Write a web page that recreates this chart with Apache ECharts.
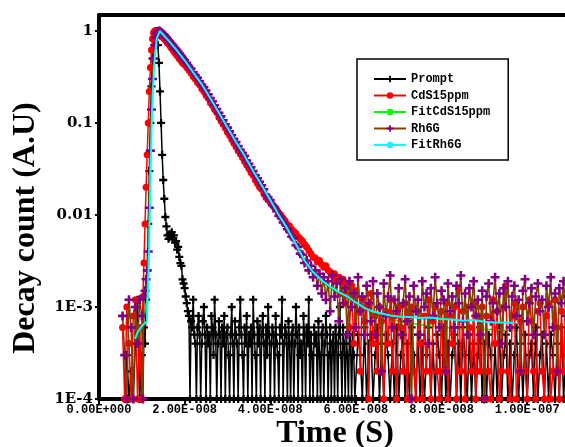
<!DOCTYPE html>
<html><head><meta charset="utf-8">
<script src="https://cdn.jsdelivr.net/npm/echarts@6/dist/echarts.min.js"></script>
<style>html,body{margin:0;padding:0;background:#fff}#chart{width:565px;height:447px}</style>
</head><body><div id="chart"></div>
<script>
// time in nanoseconds (axis labels show seconds)
const timeNs = [
5,5.5,6,6.5,7,7.5,8,8.5,9,9.5,
10,10.25,10.5,10.75,11,11.25,11.5,11.75,12,12.25,12.5,12.75,13,13.25,13.5,13.75,14,14.25,14.5,14.75,
15,15.25,15.5,15.75,16,16.25,16.5,16.75,17,17.25,17.5,17.75,18,18.25,18.5,18.75,19,19.25,19.5,19.75,
20,20.5,21,21.5,22,22.5,23,23.5,24,24.5,25,25.5,26,26.5,27,27.5,28,28.5,29,29.5,
30,30.5,31,31.5,32,32.5,33,33.5,34,34.5,35,35.5,36,36.5,37,37.5,38,38.5,39,39.5,
40,40.5,41,41.5,42,42.5,43,43.5,44,44.5,45,45.5,46,46.5,47,47.5,48,48.5,49,49.5,
50,50.5,51,51.5,52,52.5,53,53.5,54,54.5,55,55.5,56,56.5,57,57.5,58,58.5,59,59.5,
60,60.5,61,61.5,62,62.5,63,63.5,64,64.5,65,65.5,66,66.5,67,67.5,68,68.5,69,69.5,
70,70.5,71,71.5,72,72.5,73,73.5,74,74.5,75,75.5,76,76.5,77,77.5,78,78.5,79,79.5,
80,80.5,81,81.5,82,82.5,83,83.5,84,84.5,85,85.5,86,86.5,87,87.5,88,88.5,89,89.5,
90,90.5,91,91.5,92,92.5,93,93.5,94,94.5,95,95.5,96,96.5,97,97.5,98,98.5,99,99.5,
100,100.5,101,101.5,102,102.5,103,103.5,104,104.5,105,105.5,106,106.5,107,107.5,108,108.5,109,109.5
];
const promptTimeNs = [
5,5.5,6,6.5,7,7.5,8,8.5,9,9.5,
10,10.25,10.5,10.75,11,11.25,11.5,11.75,12,12.25,12.5,12.75,13,13.25,13.5,13.75,14,14.25,14.5,14.75,
15,15.25,15.5,15.75,16,16.25,16.5,16.75,17,17.25,17.5,17.75,18,18.25,18.5,18.75,19,19.25,19.5,19.75,
20,20.25,20.5,20.75,21,21.25,21.5,21.75,22,22.25,22.5,22.75,23,23.25,23.5,23.75,24,24.25,24.5,24.75,
25,25.25,25.5,25.75,26,26.25,26.5,26.75,27,27.25,27.5,27.75,28,28.25,28.5,28.75,29,29.25,29.5,29.75,
30,30.25,30.5,30.75,31,31.25,31.5,31.75,32,32.25,32.5,32.75,33,33.25,33.5,33.75,34,34.25,34.5,34.75,
35,35.25,35.5,35.75,36,36.25,36.5,36.75,37,37.25,37.5,37.75,38,38.25,38.5,38.75,39,39.25,39.5,39.75,
40,40.25,40.5,40.75,41,41.25,41.5,41.75,42,42.25,42.5,42.75,43,43.25,43.5,43.75,44,44.25,44.5,44.75,
45,45.25,45.5,45.75,46,46.25,46.5,46.75,47,47.25,47.5,47.75,48,48.25,48.5,48.75,49,49.25,49.5,49.75,
50,50.25,50.5,50.75,51,51.25,51.5,51.75,52,52.25,52.5,52.75,53,53.25,53.5,53.75,54,54.25,54.5,54.75,
55,55.25,55.5,55.75,56,56.25,56.5,56.75,57,57.25,57.5,57.75,58,58.25,58.5,58.75,59,59.25,59.5,59.75,
60,60.5,61,61.5,62,62.5,63,63.5,64,64.5,65,65.5,66,66.5,67,67.5,68,68.5,69,69.5,
70,70.5,71,71.5,72,72.5,73,73.5,74,74.5,75,75.5,76,76.5,77,77.5,78,78.5,79,79.5,
80,80.5,81,81.5,82,82.5,83,83.5,84,84.5,85,85.5,86,86.5,87,87.5,88,88.5,89,89.5,
90,90.5,91,91.5,92,92.5,93,93.5,94,94.5,95,95.5,96,96.5,97,97.5,98,98.5,99,99.5,
100,100.5,101,101.5,102,102.5,103,103.5,104,104.5,105,105.5,106,106.5,107,107.5,108,108.5,109,109.5
];
const promptDecay = [
null,null,1e-4,3e-4,1e-4,2e-4,1e-4,4e-4,1.2e-3,1e-4,
3e-4,1e-4,6e-4,4e-4,1.2e-3,2.5e-3,8e-3,0.03,0.1,0.25,
0.5,0.8,0.97,1.0,0.9,0.7,0.45,0.22,0.1,0.045,
0.024,0.015,0.0095,0.0075,0.006,0.0055,0.0062,0.0058,0.0065,0.0055,
0.006,0.005,0.0052,0.0042,0.0045,0.0035,0.003,0.0028,0.002,0.0018,
1.6e-3,1.3e-3,1.1e-3,9e-4,8e-4,1e-4,7e-4,6e-4,1.2e-3,5e-4,4e-4,1e-4,6e-4,8e-4,5e-4,1e-4,4e-4,7e-4,1e-3,5e-4,
1e-4,6e-4,4e-4,5e-4,1e-4,8e-4,6e-4,3e-4,1.2e-3,5e-4,1e-4,4e-4,7e-4,5e-4,1e-4,6e-4,4e-4,8e-4,1e-4,5e-4,
6e-4,3e-4,1e-4,5e-4,1e-3,4e-4,1e-4,7e-4,5e-4,4e-4,1e-4,6e-4,1.2e-3,5e-4,3e-4,1e-4,6e-4,4e-4,8e-4,1e-4,
5e-4,4e-4,6e-4,1e-4,1.2e-3,5e-4,3e-4,1e-4,7e-4,4e-4,6e-4,1e-4,5e-4,8e-4,4e-4,1e-4,6e-4,3e-4,1e-3,5e-4,
1e-4,4e-4,6e-4,5e-4,1e-4,8e-4,4e-4,3e-4,1e-4,6e-4,5e-4,1.2e-3,1e-4,4e-4,6e-4,5e-4,1e-4,7e-4,4e-4,1e-4,
5e-4,6e-4,1e-4,4e-4,1e-3,5e-4,1e-4,6e-4,3e-4,4e-4,1e-4,8e-4,5e-4,1e-4,6e-4,4e-4,1.2e-3,1e-4,5e-4,3e-4,
1e-4,6e-4,4e-4,5e-4,1e-4,7e-4,3e-4,1e-4,5e-4,6e-4,1e-4,4e-4,8e-4,5e-4,1e-4,3e-4,6e-4,1e-4,4e-4,5e-4,
1e-4,6e-4,4e-4,1e-4,5e-4,1e-3,3e-4,1e-4,6e-4,4e-4,1e-4,5e-4,3e-4,1e-4,6e-4,4e-4,1e-4,5e-4,3e-4,1e-4,
1e-4,5e-4,3e-4,1e-4,6e-4,1e-4,4e-4,5e-4,1e-4,3e-4,6e-4,1e-4,4e-4,1e-4,5e-4,3e-4,1e-4,4e-4,1e-4,6e-4,
1e-4,3e-4,5e-4,1e-4,4e-4,1e-4,6e-4,3e-4,1e-4,5e-4,1e-4,4e-4,1e-4,3e-4,6e-4,1e-4,4e-4,1e-4,5e-4,3e-4,
1e-4,6e-4,1e-4,4e-4,1e-4,3e-4,5e-4,1e-4,4e-4,1e-4,6e-4,3e-4,1e-4,5e-4,1e-4,4e-4,1e-4,3e-4,6e-4,1e-4,
4e-4,1e-4,5e-4,3e-4,1e-4,4e-4,1e-4,6e-4,1e-4,3e-4,5e-4,1e-4,4e-4,1e-4,3e-4,6e-4,1e-4,4e-4,1e-4,5e-4,
1e-4,3e-4,4e-4,1e-4,6e-4,1e-4,3e-4,5e-4,1e-4,4e-4,1e-4,5e-4,3e-4,1e-4,4e-4,1e-4,6e-4,1e-4,3e-4,1e-4
];
const cdsDecay = [
null,6e-4,1e-4,1e-3,4e-4,1e-4,8e-4,1.2e-3,1e-4,6e-4,
1e-4,1.3e-3,3e-3,8e-3,0.02,0.045,0.1,0.22,0.4,0.62,
0.82,0.95,1.0,1.0,0.97,0.95,0.93,0.9,0.88,0.86,
0.85,0.82,0.8,0.77,0.74,0.73,0.7,0.67,0.65,0.63,
0.6,0.58,0.56,0.54,0.53,0.5,0.49,0.47,0.45,0.44,
0.43,0.4,0.375,0.35,0.32,0.3,0.275,0.26,0.235,0.22,
0.2,0.185,0.166,0.155,0.14,0.13,0.115,0.105,0.097,0.088,
0.079,0.073,0.066,0.06,0.055,0.05,0.046,0.042,0.038,0.035,
0.032,0.029,0.027,0.024,0.022,0.02,0.019,0.017,0.0155,0.0145,
0.0138,0.0128,0.0122,0.0114,0.0105,0.0099,0.0092,0.0086,0.0079,0.0076,
0.007,0.0066,0.0063,0.0058,0.0055,0.0052,0.0048,0.0045,0.0041,0.0038,
0.0035,0.0034,0.0031,0.0032,0.0029,0.0027,0.0028,0.0025,0.0024,0.0022,
0.0023,0.0019,0.0021,0.0014,0.002,0.0011,0.0018,6e-4,0.0017,4e-4,
0.0015,9e-4,2e-4,0.0012,7e-4,0.001,1e-4,0.0014,4e-4,8e-4,
2e-4,0.001,7e-4,1e-4,9e-4,4e-4,0.0012,2e-4,8e-4,1e-4,
0.001,6e-4,2e-4,0.0011,1e-4,8e-4,0.001,2e-4,1e-4,9e-4,
4e-4,1e-4,8e-4,2e-4,0.0012,1e-4,7e-4,0.001,2e-4,1e-4,
9e-4,2e-4,0.0011,1e-4,8e-4,4e-4,0.001,1e-4,0.0016,2e-4,
9e-4,1e-4,0.001,6e-4,2e-4,0.0011,1e-4,8e-4,2e-4,0.001,
1e-4,8e-4,2e-4,1e-4,0.0012,4e-4,9e-4,1e-4,2e-4,0.001,
0.0017,2e-4,1e-4,8e-4,0.0011,1e-4,2e-4,7e-4,0.001,2e-4,
1e-4,0.0012,7e-4,2e-4,1e-4,9e-4,0.0011,2e-4,1e-4,8e-4,
0.0011,1e-4,2e-4,0.0012,6e-4,1e-4,9e-4,2e-4,0.0013,1e-4
];
const rh6gDecay = [
null,8e-4,3e-4,1e-4,1.2e-3,6e-4,1e-4,1e-3,4e-4,1.2e-3,
8e-4,1e-4,1.3e-3,1.5e-3,2e-3,2.5e-3,4e-3,0.012,0.05,0.14,
0.3,0.5,0.7,0.85,0.94,0.98,1.0,0.99,0.97,0.95,
0.92,0.9,0.87,0.85,0.82,0.79,0.77,0.74,0.72,0.7,
0.67,0.65,0.63,0.61,0.59,0.57,0.55,0.53,0.51,0.49,
0.48,0.45,0.41,0.39,0.355,0.33,0.31,0.285,0.26,0.245,
0.225,0.205,0.186,0.172,0.156,0.142,0.129,0.118,0.107,0.097,
0.089,0.081,0.074,0.067,0.062,0.056,0.051,0.047,0.044,0.039,
0.036,0.033,0.03,0.027,0.025,0.023,0.021,0.019,0.0165,0.0155,
0.0145,0.0128,0.0122,0.011,0.0098,0.0094,0.0083,0.0079,0.007,0.0066,
0.0058,0.0056,0.0047,0.0045,0.0038,0.0037,0.003,0.0032,0.0025,0.0028,
0.0021,0.0025,0.0017,0.0023,0.0014,0.0021,0.0012,0.0019,9e-4,0.0022,
0.0013,0.0018,7e-4,0.002,0.0011,0.0016,5e-4,0.0019,0.001,0.0014,
6e-4,0.0021,9e-4,0.0013,5e-4,0.0017,0.0011,7e-4,0.0019,5e-4,
0.0014,0.001,2e-4,0.0018,8e-4,0.0013,0.0022,6e-4,0.0012,9e-4,
0.0016,5e-4,0.0011,0.002,7e-4,0.0013,1e-4,0.0017,9e-4,0.0012,
5e-4,0.0019,0.001,0.0014,4e-4,0.0016,8e-4,0.0021,0.0011,6e-4,
0.0015,0.0012,2e-4,0.0018,9e-4,0.0013,6e-4,0.0017,0.0011,0.0022,
7e-4,0.0014,5e-4,0.0016,0.001,0.0019,8e-4,0.0012,5e-4,0.0015,
1e-4,0.0013,0.0018,7e-4,0.0011,0.0021,9e-4,0.0014,4e-4,0.0016,
0.001,0.0019,6e-4,0.0013,0.0017,8e-4,0.0012,2e-4,0.0015,0.002,
7e-4,0.0011,0.0016,5e-4,0.0013,0.0018,9e-4,0.0012,5e-4,0.0017,
0.001,0.0021,6e-4,0.0014,2e-4,0.0016,0.0011,0.0019,8e-4,0.0013
];
const fitTimeNs = [
8.4,9.1,10,11.2,11.7,12,12.4,12.9,13.5,14.2,
15,16,18,20,22,24,26,28,30,32,
34,36,38,40,42,44,46,48,50,52,
54,56,58,60,62,64,66,68,70,72.5,
75,77.5,80,82.5,85,87.5,90,92.5,95,97
];
const fitCdS = [
4e-4,4.6e-4,5.5e-4,1.2e-3,0.012,0.05,0.2,0.55,0.9,0.98,
0.89,0.79,0.61,0.465,0.345,0.255,0.18,0.125,0.087,0.061,
0.043,0.03,0.021,0.0145,0.0102,0.0072,0.0049,0.0033,0.0024,0.0019,
0.0016,0.0014,0.00125,0.0011,9.6e-4,8.6e-4,8e-4,7.4e-4,7e-4,6.7e-4,
6.4e-4,6.2e-4,6e-4,5.9e-4,5.8e-4,5.8e-4,5.7e-4,5.7e-4,5.6e-4,5.6e-4
];
const fitRh6G = [
4.5e-4,5.4e-4,6.2e-4,7e-4,4e-3,0.025,0.14,0.44,0.83,1.0,
0.91,0.81,0.63,0.48,0.355,0.263,0.186,0.129,0.089,0.062,
0.044,0.03,0.021,0.0145,0.01,0.0071,0.0048,0.0032,0.0024,0.00195,
0.00166,0.00145,0.0013,0.00112,9.8e-4,8.9e-4,8.5e-4,8.1e-4,7.9e-4,7.8e-4,
7.6e-4,7.7e-4,7.4e-4,7.3e-4,7.1e-4,7.2e-4,6.9e-4,6.8e-4,6.8e-4,6.7e-4
];
const seriesNames = ['Prompt','CdS15ppm','FitCdS15ppm','Rh6G','FitRh6G'];
const xTickValues = [0,20,40,60,80,100];
const xTickLabels = ['0.00E+000','2.00E-008','4.00E-008','6.00E-008','8.00E-008','1.00E-007'];
const yTickValues = [1e-4,1e-3,1e-2,1e-1,1];
const yTickLabels = ['1E-4','1E-3','0.01','0.1','1'];

function pairs(xs, ys){const out=[];for(let i=0;i<xs.length;i++){if(ys[i]!=null)out.push([xs[i],ys[i]]);}return out;}
const plusSymbol = 'path://M2.5,0H4.5V2.5H7V4.5H4.5V7H2.5V4.5H0V2.5H2.5Z';

const chart = echarts.init(document.getElementById('chart'), null, {renderer:'canvas'});
chart.setOption({
  animation:false,
  backgroundColor:'#fff',
  grid:{left:99,right:-5,top:15,bottom:48,show:false,containLabel:false,outerBoundsMode:'none'},
  legend:{
    orient:'vertical',left:357,top:59,padding:[14,18,9,16],itemGap:4.5,itemWidth:32,itemHeight:8,
    backgroundColor:'#fff',borderColor:'#000',borderWidth:1.5,
    textStyle:{fontFamily:'Liberation Mono',fontWeight:'bold',fontSize:12,color:'#000'},
    data:seriesNames
  },
  xAxis:[{
    type:'value',min:0,max:110,interval:20,position:'bottom',
    axisLine:{lineStyle:{color:'#000',width:4}},
    axisTick:{length:5,lineStyle:{color:'#000',width:2},customValues:xTickValues},
    axisLabel:{customValues:xTickValues,margin:5,fontFamily:'Liberation Mono',fontWeight:'bold',fontSize:12,color:'#000',
      formatter:function(v){const i=xTickValues.indexOf(Math.round(v*1000)/1000);return i<0?'':xTickLabels[i];}},
    splitLine:{show:false}
  },{
    type:'value',min:0,max:110,position:'top',
    axisLine:{show:true,lineStyle:{color:'#000',width:4}},
    axisTick:{show:false},axisLabel:{show:false},splitLine:{show:false}
  }],
  yAxis:{
    type:'log',logBase:10,min:1e-4,max:1.49,
    axisLine:{lineStyle:{color:'#000',width:4}},
    axisTick:{length:4,lineStyle:{color:'#000',width:2},customValues:yTickValues},
    axisLabel:{customValues:yTickValues,margin:6,fontFamily:'DejaVu Serif',fontWeight:'bold',fontSize:15,color:'#000',
      formatter:function(v){const e=Math.log10(v);for(let i=0;i<yTickValues.length;i++){if(Math.abs(Math.log10(yTickValues[i])-e)<1e-6)return yTickLabels[i];}return '';}},
    splitLine:{show:false},minorTick:{show:false}
  },
  graphic:[
    {type:'text',x:335,y:434,silent:true,style:{text:'Time (S)',font:'bold 32px "Liberation Serif"',fill:'#000',align:'center',verticalAlign:'middle'}},
    {type:'text',x:26,y:228,rotation:Math.PI/2,silent:true,style:{text:'Decay count (A.U)',font:'bold 32px "Liberation Serif"',fill:'#000',align:'center',verticalAlign:'middle'}}
  ],
  series:[
    {name:seriesNames[0],type:'line',z:2,silent:true,data:pairs(promptTimeNs,promptDecay),symbol:plusSymbol,symbolSize:8,
      itemStyle:{color:'#000',borderWidth:0},lineStyle:{color:'#000',width:1.5}},
    {name:seriesNames[1],type:'line',z:4,silent:true,data:pairs(timeNs,cdsDecay),symbol:'circle',symbolSize:7,
      itemStyle:{color:'#ff0000',borderWidth:0},lineStyle:{color:'#ff0000',width:1.5}},
    {name:seriesNames[2],type:'line',z:3,silent:true,data:pairs(fitTimeNs,fitCdS),symbol:'none',
      itemStyle:{color:'#00ff00'},lineStyle:{color:'#00ff00',width:1.5}},
    {name:seriesNames[3],type:'line',z:5,silent:true,data:pairs(timeNs,rh6gDecay),symbol:plusSymbol,symbolSize:9,
      itemStyle:{color:'#800080',borderWidth:0},lineStyle:{color:'#7f4000',width:1.6}},
    {name:seriesNames[4],type:'line',z:6,silent:true,data:pairs(fitTimeNs,fitRh6G),symbol:'none',
      itemStyle:{color:'#00ffff'},lineStyle:{color:'#00ffff',width:2}}
  ]
});
</script></body></html>
